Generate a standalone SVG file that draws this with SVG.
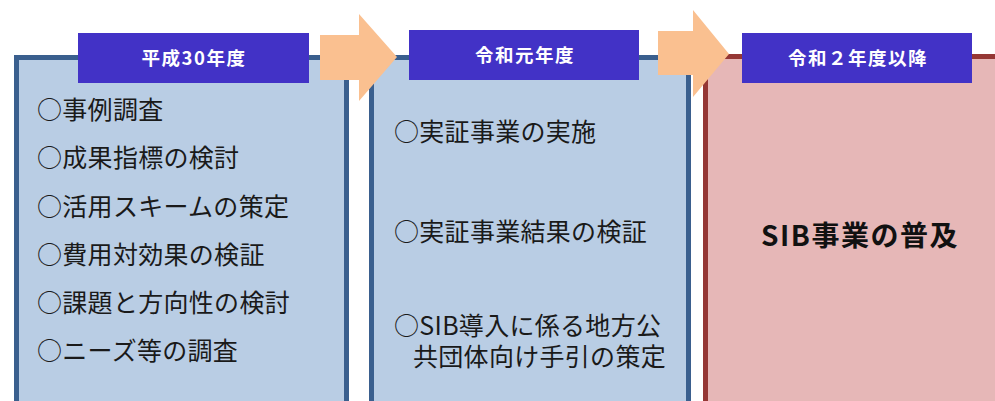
<svg xmlns="http://www.w3.org/2000/svg" width="995" height="401" viewBox="0 0 995 401">
<style>
.blue{fill:#B9CDE4;stroke:#3A5F8E;stroke-width:5}
.red{fill:#E6B7B7;stroke:#953735;stroke-width:5}
.hdr{fill:#4232C6}
.ht{font-family:"Noto Sans CJK JP","Noto Sans",sans-serif;font-weight:bold;font-size:18.5px;letter-spacing:1.5px;fill:#FFFFFF;text-anchor:middle}
.t{font-family:"Noto Sans CJK JP","Noto Sans",sans-serif;font-size:25px;letter-spacing:0.3px;fill:#1A1A1A}
.b{font-family:"Noto Sans CJK JP","Noto Sans",sans-serif;font-size:28px;letter-spacing:1.5px;font-weight:bold;fill:#111111;text-anchor:middle}
.arr{fill:#FAC090}
</style>
<rect width="995" height="401" fill="#FFFFFF"/>
<g id="box1">
<rect class="blue" x="16.5" y="57.5" width="330" height="360"/>
<text class="t" x="37" y="119">○事例調査</text>
<text class="t" x="37" y="167">○成果指標の検討</text>
<text class="t" x="37" y="216">○活用スキームの策定</text>
<text class="t" x="37" y="264">○費用対効果の検証</text>
<text class="t" x="37" y="312">○課題と方向性の検討</text>
<text class="t" x="37" y="360">○ニーズ等の調査</text>
</g>
<g id="box2">
<rect class="blue" x="371.5" y="57.5" width="317" height="360"/>
<text class="t" x="394" y="141">○実証事業の実施</text>
<text class="t" x="394" y="241">○実証事業結果の検証</text>
<text class="t"><tspan x="394" y="335">○SIB導入に係る地方公</tspan><tspan x="413" y="366">共団体向け手引の策定</tspan></text>
</g>
<g id="box3">
<rect class="red" x="705.5" y="56.5" width="310" height="360"/>
<text class="b" x="860" y="246">SIB事業の普及</text>
</g>
<g id="connectors">
<polygon class="arr" points="320,35 359,35 359,14 397,57 359,101 359,80 320,80"/>
<polygon class="arr" points="658,31 693,31 693,10 729,54 693,97 693,75 658,75"/>
</g>
<g id="hdr1">
<rect class="hdr" x="78" y="33" width="231" height="50"/>
<text class="ht" x="194" y="65">平成30年度</text>
</g>
<g id="hdr2">
<rect class="hdr" x="409" y="30" width="230" height="50"/>
<text class="ht" x="525" y="62">令和元年度</text>
</g>
<g id="hdr3">
<rect class="hdr" x="742" y="33" width="230" height="50"/>
<text class="ht" x="858" y="65">令和２年度以降</text>
</g>
</svg>
